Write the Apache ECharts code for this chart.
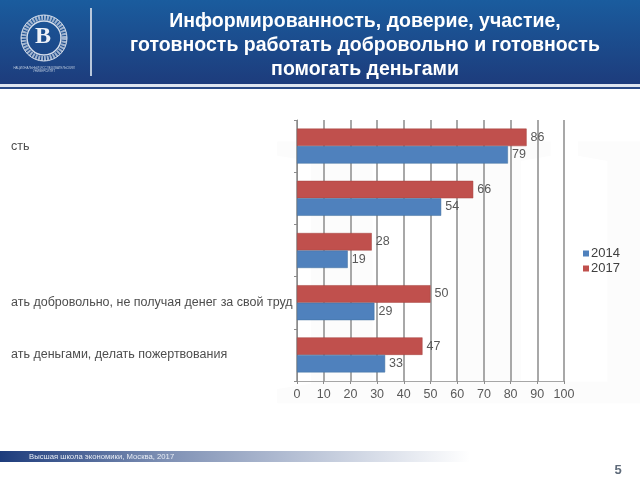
<!DOCTYPE html>
<html><head><meta charset="utf-8">
<style>html,body{margin:0;padding:0;background:#fff}#c{width:640px;height:480px}</style>
<script src="https://cdn.jsdelivr.net/npm/echarts@6/dist/echarts.min.js"></script>
</head><body><div id="c"></div>
<script>
const titleText = "Информированность, доверие, участие,\nготовность работать добровольно и готовность\nпомогать деньгами";
const footerText = "Высшая школа экономики, Москва, 2017";
const pageNumber = "5";
const categories = ["сть", "", "", "ать добровольно, не получая денег за свой труд", "ать деньгами, делать пожертвования"];
const values2014 = [79, 54, 19, 29, 33];
const values2017 = [86, 66, 28, 50, 47];
const xTicks = {min: 0, max: 100, interval: 10};

const chart = echarts.init(document.getElementById('c'), null, {renderer: 'canvas'});
const labelStyle = {show: true, position: 'right', distance: 4, color: '#595959', fontFamily: 'Liberation Sans', fontSize: 12.5};
chart.setOption({
  animation: false,
  backgroundColor: '#ffffff',
  title: {
    text: titleText, left: 360, top: 5, textAlign: 'center',
    textStyle: {color: '#fff', fontFamily: 'Liberation Sans', fontSize: 19.5, fontWeight: 'bold', lineHeight: 24, align: 'center'}
  },
  grid: {left: 297, right: 76, top: 120, bottom: 99},
  legend: {
    data: ['2014', '2017'], orient: 'vertical', left: 578, top: 242, itemWidth: 6, itemHeight: 6, itemGap: 2,
    icon: 'rect', itemStyle: {borderWidth: 0},
    textStyle: {color: '#404040', fontFamily: 'Liberation Sans', fontSize: 13, padding: [0, 0, 0, -3]}
  },
  xAxis: {
    type: 'value', min: xTicks.min, max: xTicks.max, interval: xTicks.interval, position: 'bottom',
    axisLine: {show: true, lineStyle: {color: '#a6a6a6', width: 1}},
    axisTick: {show: true, length: 3, lineStyle: {color: '#8c8c8c'}},
    axisLabel: {color: '#595959', fontFamily: 'Liberation Sans', fontSize: 12.5, margin: 7},
    splitLine: {show: true, lineStyle: {color: '#a8a8a8', width: 2}}
  },
  yAxis: {
    type: 'category', data: categories, inverse: true,
    axisLine: {show: true, lineStyle: {color: '#8c8c8c', width: 1}},
    axisTick: {show: true, length: 3, lineStyle: {color: '#8c8c8c'}},
    axisLabel: {
      color: '#4d4d4d', fontFamily: 'Liberation Sans', fontSize: 12.5, align: 'left', margin: 286, interval: 0, padding: [6, 0, 0, 0]
    }
  },
  series: [
    {name: '2017', type: 'bar', data: values2017, barGap: 0, barCategoryGap: '33%',
     itemStyle: {color: '#c0504d', borderColor: '#a5423f', borderWidth: 0.5}, label: labelStyle},
    {name: '2014', type: 'bar', data: values2014,
     itemStyle: {color: '#4f81bd', borderColor: '#41709f', borderWidth: 0.5}, label: labelStyle}
  ],
  graphic: [
    {type: 'text', z: -20, style: {x: 490, y: 300, text: 'Ш', fill: '#fcfcfc', font: 'bold 400px Liberation Serif', align: 'center', verticalAlign: 'middle'}},
    {type: 'rect', z: -10, shape: {x: 0, y: 0, width: 640, height: 84},
     style: {fill: new echarts.graphic.LinearGradient(0, 0, 0, 1, [{offset: 0, color: '#1a5c9e'}, {offset: 1, color: '#1d3c7c'}])}},
    {type: 'rect', z: -10, shape: {x: 0, y: 84, width: 640, height: 3}, style: {fill: '#dfe6f0'}},
    {type: 'rect', z: -10, shape: {x: 0, y: 87, width: 640, height: 2}, style: {fill: '#2a4a86'}},
    {type: 'rect', z: -9, shape: {x: 90, y: 8, width: 2, height: 68}, style: {fill: '#b9c8dc'}},
    {type: 'circle', z: -9, shape: {cx: 44, cy: 38, r: 20.5}, style: {fill: 'none', stroke: '#9fb3cf', lineWidth: 5, lineDash: [2, 1]}},
    {type: 'circle', z: -9, shape: {cx: 44, cy: 38, r: 23}, style: {fill: 'none', stroke: '#d5deeb', lineWidth: 1}},
    {type: 'circle', z: -9, shape: {cx: 44, cy: 38, r: 17}, style: {fill: 'none', stroke: '#d5deeb', lineWidth: 1.5}},
    {type: 'text', z: -9, style: {x: 43, y: 37, text: 'В', fill: '#eef2f8', font: 'bold 24px Liberation Serif', align: 'center', verticalAlign: 'middle'}},
    {type: 'text', z: -9, style: {x: 44, y: 70, text: 'НАЦИОНАЛЬНЫЙ ИССЛЕДОВАТЕЛЬСКИЙ\nУНИВЕРСИТЕТ', fill: '#b9c8dc', font: '3px Liberation Sans', align: 'center', verticalAlign: 'middle'}},
    {type: 'rect', z: -10, shape: {x: 0, y: 451, width: 470, height: 11},
     style: {fill: new echarts.graphic.LinearGradient(0, 0, 1, 0, [{offset: 0, color: '#1d3c7c'}, {offset: 0.35, color: '#7e90b4'}, {offset: 1, color: '#ffffff'}])}},
    {type: 'text', z: -9, style: {x: 29, y: 456.5, text: footerText, fill: '#e8edf5', font: '7.7px Liberation Sans', verticalAlign: 'middle'}},
    {type: 'text', z: -9, style: {x: 618, y: 470, text: pageNumber, fill: '#5f6b7a', font: 'bold 13px Liberation Sans', align: 'center', verticalAlign: 'middle'}}
  ]
});
</script></body></html>
